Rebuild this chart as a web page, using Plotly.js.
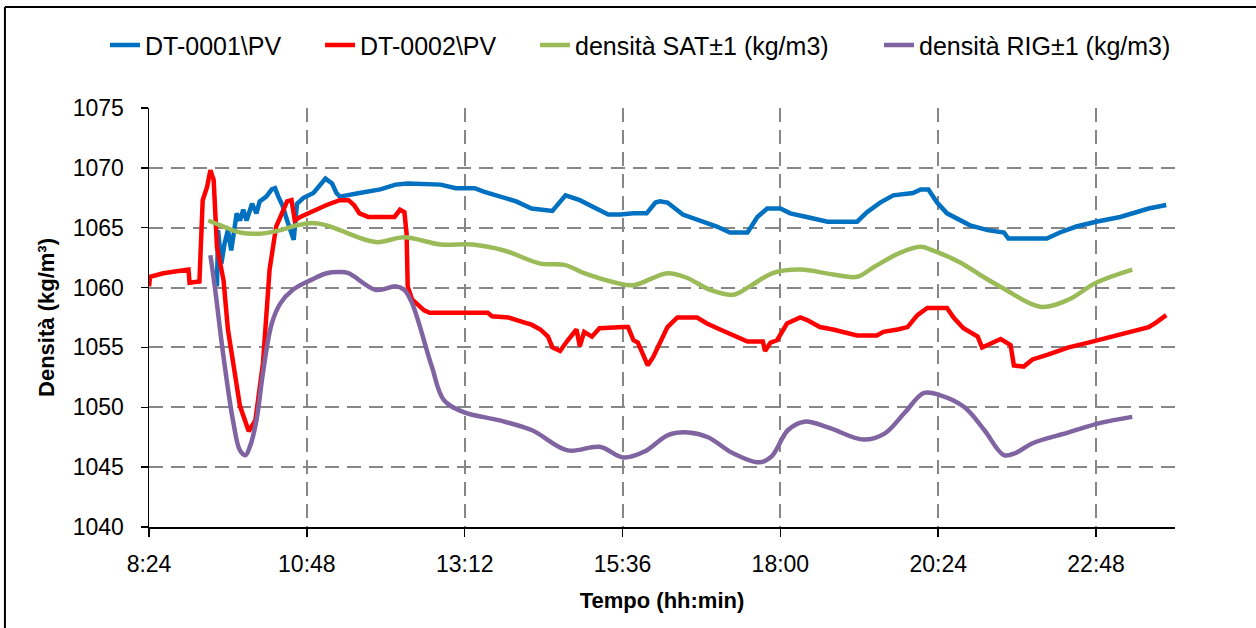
<!DOCTYPE html>
<html>
<head>
<meta charset="utf-8">
<script src="https://cdn.plot.ly/plotly-3.0.1.min.js"></script>
<style>
  html, body { margin: 0; padding: 0; background: #ffffff; }
  #chart { width: 1256px; height: 628px; }
</style>
</head>
<body>
<div id="chart"></div>
<script>
// ---- Data ----
const DAY = "2024-01-01 ";

const seriesNames = ["DT-0001\\PV", "DT-0002\\PV", "densità SAT±1 (kg/m3)", "densità RIG±1 (kg/m3)"];

const dt1Times = ["09:26","09:27","09:30","09:33","09:36","09:39","09:44","09:47","09:50","09:53","09:58","10:02","10:05","10:11","10:16","10:19","10:22","10:26","10:30","10:33","10:36","10:39","10:45","10:54","11:02","11:05","11:11","11:15","11:18","11:26","11:36","11:55","12:09","12:20","12:50","13:04","13:21","13:30","13:44","13:59","14:13","14:28","14:32","14:44","14:57","15:12","15:23","15:34","15:46","15:58","16:06","16:10","16:17","16:31","16:47","17:02","17:14","17:30","17:39","17:48","18:00","18:09","18:24","18:43","19:10","19:19","19:31","19:43","20:01","20:08","20:15","20:23","20:32","20:44","20:53","21:09","21:24","21:28","22:03","22:15","22:30","22:48","23:10","23:36","23:52"];
const dt1Values = [1060.1,1064.8,1062.0,1063.7,1064.8,1063.1,1066.2,1065.6,1066.5,1065.6,1067.0,1066.2,1067.2,1067.6,1068.2,1068.3,1067.6,1066.8,1065.6,1064.8,1064.0,1067.0,1067.5,1067.9,1068.7,1069.1,1068.7,1067.9,1067.6,1067.7,1067.9,1068.2,1068.6,1068.7,1068.6,1068.3,1068.3,1068.0,1067.6,1067.2,1066.6,1066.5,1066.4,1067.7,1067.3,1066.6,1066.1,1066.1,1066.2,1066.2,1067.1,1067.2,1067.1,1066.1,1065.6,1065.1,1064.6,1064.6,1065.9,1066.6,1066.6,1066.2,1065.9,1065.5,1065.5,1066.3,1067.1,1067.7,1067.9,1068.2,1068.2,1067.1,1066.2,1065.6,1065.2,1064.8,1064.6,1064.1,1064.1,1064.6,1065.1,1065.5,1065.9,1066.6,1066.9];

const dt2Times = ["08:24","08:25","08:37","09:00","09:01","09:10","09:13","09:17","09:20","09:23","09:26","09:32","09:36","09:47","09:55","10:01","10:08","10:14","10:20","10:30","10:34","10:37","10:42","10:51","11:06","11:18","11:26","11:31","11:36","11:44","12:08","12:13","12:17","12:19","12:20","12:24","12:35","12:40","13:33","13:37","13:52","14:06","14:13","14:21","14:28","14:32","14:39","14:46","14:54","14:57","15:01","15:08","15:15","15:37","15:41","15:46","15:50","15:59","16:04","16:17","16:26","16:44","16:53","17:05","17:17","17:30","17:44","17:46","17:51","17:57","18:06","18:18","18:24","18:36","18:48","19:10","19:28","19:34","19:47","19:56","20:05","20:14","20:32","20:38","20:47","21:00","21:04","21:14","21:21","21:30","21:33","21:42","21:50","22:04","22:23","22:41","22:59","23:17","23:36","23:43","23:52"];
const dt2Values = [1060.1,1060.9,1061.2,1061.5,1060.4,1060.5,1067.3,1068.4,1069.8,1069.0,1063.4,1060.6,1056.5,1050.1,1048.0,1048.9,1053.7,1061.5,1065.1,1067.2,1067.3,1065.6,1065.9,1066.3,1066.9,1067.3,1067.3,1066.9,1066.2,1065.9,1065.9,1066.5,1066.3,1064.5,1060.1,1059.0,1058.1,1057.9,1057.9,1057.6,1057.5,1057.1,1056.9,1056.5,1055.9,1055.0,1054.7,1055.6,1056.5,1055.1,1056.3,1055.9,1056.6,1056.7,1056.7,1055.6,1055.4,1053.5,1054.2,1056.7,1057.5,1057.5,1057.0,1056.5,1056.0,1055.5,1055.5,1054.7,1055.4,1055.6,1057.0,1057.5,1057.3,1056.7,1056.5,1056.0,1056.0,1056.3,1056.5,1056.7,1057.7,1058.3,1058.3,1057.5,1056.6,1055.9,1055.0,1055.4,1055.7,1055.2,1053.5,1053.4,1054.0,1054.4,1055.0,1055.4,1055.8,1056.2,1056.7,1057.1,1057.7];

const satTimes = ["09:18","09:32","09:47","10:05","10:24","10:39","10:53","11:06","11:18","11:51","12:17","12:50","13:19","13:48","14:21","14:43","15:01","15:30","15:46","16:17","16:35","16:56","17:17","17:32","17:53","18:18","18:48","19:10","19:25","19:49","20:08","20:19","20:44","21:05","21:24","21:57","22:23","22:48","23:21"];
const satValues = [1065.6,1065.1,1064.6,1064.5,1064.8,1065.2,1065.4,1065.2,1064.8,1063.8,1064.2,1063.6,1063.6,1063.1,1062.0,1061.9,1061.2,1060.4,1060.2,1061.2,1060.8,1059.8,1059.4,1060.1,1061.2,1061.5,1061.1,1060.9,1061.7,1062.9,1063.4,1063.1,1062.1,1060.9,1059.9,1058.4,1059.0,1060.4,1061.5];

const rigTimes = ["09:20","09:24","09:32","09:41","09:47","09:52","09:56","10:02","10:08","10:16","10:24","10:35","10:51","11:06","11:18","11:26","11:51","12:09","12:17","12:24","12:42","12:53","13:11","13:44","14:13","14:46","15:15","15:37","15:56","16:18","16:36","16:54","17:16","17:41","17:52","18:07","18:22","18:44","19:16","19:35","19:53","20:11","20:26","20:48","21:06","21:24","21:35","21:50","22:23","22:52","23:21"];
const rigValues = [1062.7,1060.1,1054.2,1048.7,1046.4,1046.0,1046.7,1048.9,1052.9,1057.0,1058.7,1059.8,1060.6,1061.2,1061.3,1061.2,1059.8,1060.1,1059.8,1058.7,1053.4,1050.6,1049.6,1048.9,1048.1,1046.4,1046.7,1045.8,1046.3,1047.7,1047.9,1047.5,1046.2,1045.4,1045.9,1048.1,1048.8,1048.3,1047.3,1047.8,1049.5,1051.2,1051.0,1050.0,1048.1,1046.0,1046.2,1047.0,1047.9,1048.7,1049.2];

const seriesColors = ["#0070C0", "#FF0000", "#9BBB59", "#8064A2"];

const xTickStart = "08:24";
const xRangeEnd = "2024-01-02 00:00";
const yRange = [1040, 1075];
const xTitle = "Tempo (hh:min)";
const yTitle = "Densità (kg/m³)";

// ---- Build traces ----
const toDate = arr => arr.map(t => DAY + t);
const FONT = "Liberation Sans, Arial, sans-serif";

const traces = [
  { x: toDate(dt1Times), y: dt1Values, name: seriesNames[0], type: "scatter", mode: "lines", legend: "legend",
    line: { color: seriesColors[0], width: 4.5, shape: "linear" } },
  { x: toDate(dt2Times), y: dt2Values, name: seriesNames[1], type: "scatter", mode: "lines", legend: "legend2",
    line: { color: seriesColors[1], width: 4.5, shape: "linear" } },
  { x: toDate(satTimes), y: satValues, name: seriesNames[2], type: "scatter", mode: "lines", legend: "legend3",
    line: { color: seriesColors[2], width: 4.5, shape: "spline", smoothing: 1 } },
  { x: toDate(rigTimes), y: rigValues, name: seriesNames[3], type: "scatter", mode: "lines", legend: "legend4",
    line: { color: seriesColors[3], width: 4.5, shape: "spline", smoothing: 1 } }
];

function legendAt(xPaper) {
  return {
    orientation: "h",
    x: xPaper, xanchor: "left",
    y: 1.150, yanchor: "middle",
    font: { family: FONT, size: 25, color: "#000000" },
    bgcolor: "rgba(0,0,0,0)",
    borderwidth: 0
  };
}

const layout = {
  width: 1256, height: 628,
  margin: { l: 149, r: 81, t: 108, b: 101 },
  paper_bgcolor: "#ffffff",
  plot_bgcolor: "#ffffff",
  font: { family: FONT, color: "#000000", size: 23 },
  showlegend: true,
  legend: legendAt(-0.0429),
  legend2: legendAt(0.1667),
  legend3: legendAt(0.3762),
  legend4: legendAt(0.7115),
  xaxis: {
    type: "date",
    range: [DAY + xTickStart, xRangeEnd],
    tick0: DAY + xTickStart,
    dtick: 144 * 60 * 1000,
    tickformat: "%-H:%M",
    showgrid: true,
    gridcolor: "#878787",
    gridwidth: 2,
    griddash: "14px,8px",
    showline: true, linecolor: "#000000", linewidth: 1.5,
    ticks: "outside", ticklen: 8, tickcolor: "#000000", tickwidth: 1.5,
    ticklabelstandoff: 8,
    tickfont: { family: FONT, size: 23, color: "#000000" },
    zeroline: false,
    title: { text: "<b>" + xTitle + "</b>", font: { family: FONT, size: 22, color: "#000000" }, standoff: 16 }
  },
  yaxis: {
    range: yRange,
    dtick: 5,
    tick0: 1040,
    showgrid: true,
    gridcolor: "#878787",
    gridwidth: 2,
    griddash: "14px,8px",
    showline: true, linecolor: "#000000", linewidth: 1.5,
    ticks: "outside", ticklen: 7, tickcolor: "#000000", tickwidth: 1.5,
    ticklabelstandoff: 12,
    tickfont: { family: FONT, size: 23, color: "#000000" },
    zeroline: false,
    title: { text: "<b>" + yTitle + "</b>", font: { family: FONT, size: 22, color: "#000000" }, standoff: 12 }
  },
  shapes: [
    { type: "line", xref: "paper", yref: "paper", x0: -0.1404, x1: 1.08, y0: 1.241, y1: 1.241,
      line: { color: "#000000", width: 2 } },
    { type: "line", xref: "paper", yref: "paper", x0: -0.1404, x1: -0.1404, y0: 1.241, y1: -0.25,
      line: { color: "#000000", width: 2 } }
  ]
};

Plotly.newPlot("chart", traces, layout, { displayModeBar: false, staticPlot: true });
</script>
</body>
</html>
